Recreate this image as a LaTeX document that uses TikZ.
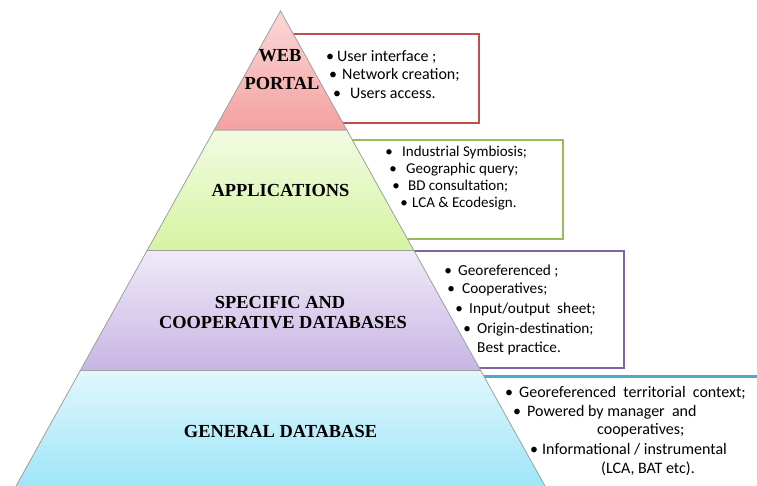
\documentclass[tikz,border=0pt]{standalone}
\usepackage{fontspec}
\setmainfont{Carlito}
\newfontfamily\titlefont{Liberation Serif}
\definecolor{rtop}{HTML}{FBD8D7}
\definecolor{rbot}{HTML}{F3A1A0}
\definecolor{gtop}{HTML}{F2FBE2}
\definecolor{gbot}{HTML}{D5F4A2}
\definecolor{ptop}{HTML}{EFEAF7}
\definecolor{pbot}{HTML}{C8B5E4}
\definecolor{btop}{HTML}{E1F7FD}
\definecolor{bbot}{HTML}{9BE5F8}
\definecolor{bred}{HTML}{C0504D}
\definecolor{bgreen}{HTML}{9BBB59}
\definecolor{bpurple}{HTML}{8064A2}
\definecolor{bblue}{HTML}{4BACC6}
\newcommand\blt[6]{\node[txt,font=\fontsize{#6}{#6}\selectfont] (#1) at (#3,#4) {\makebox[0pt][r]{\makebox[0pt][c]{•}\hspace{\dimexpr #3pt-#2pt\relax}}#5};}
\newcommand\nob[5]{\node[txt,font=\fontsize{#5}{#5}\selectfont] (#1) at (#2,#3) {#4};}
\begin{document}
\begin{tikzpicture}[x=1pt,y=-1pt,
  infobox/.style={line width=2.6pt,fill=white},
  layer/.style={draw=gray!75,line width=0.8pt},
  title/.style={font=\titlefont\bfseries\fontsize{18.4}{20}\selectfont,anchor=base,inner sep=0pt},
  txt/.style={anchor=base west,inner sep=0pt}]
\useasboundingbox (0,0) rectangle (757,486);
\clip (0,0) rectangle (757,486);
% boxes behind the pyramid
\draw[infobox,draw=bred] (285,34) rectangle (479,123);
\draw[infobox,draw=bgreen] (330,140) rectangle (563,239);
\draw[infobox,draw=bpurple] (400,251) rectangle (624,368);
\draw[infobox,draw=bblue] (470,376.5) rectangle (800,520);
% pyramid layers
\path[layer,top color=btop,bottom color=bbot] (80.3,370.5) -- (480.7,370.5) -- (547.2,490) -- (13.8,490) -- cycle;
\path[layer,top color=ptop,bottom color=pbot] (147.1,250.5) -- (413.9,250.5) -- (480.7,370.5) -- (80.3,370.5) -- cycle;
\path[layer,top color=gtop,bottom color=gbot] (214.2,130) -- (346.8,130) -- (413.9,250.5) -- (147.1,250.5) -- cycle;
\path[layer,top color=rtop,bottom color=rbot] (280.5,11) -- (346.8,130) -- (214.2,130) -- cycle;
% titles
\node[title] (web) at (280,62) {WEB};
\node[title] (portal) at (282,90) {PORTAL};
\node[title] (apps) at (280.5,196.7) {APPLICATIONS};
\node[title] (spec1) at (280,308.3) {SPECIFIC AND};
\node[title] (spec2) at (283,328.3) {COOPERATIVE DATABASES};
\node[title] (gen) at (280.5,437.7) {GENERAL DATABASE};
% red box text
\blt{r1}{330}{337}{62}{User interface ;}{16}
\blt{r2}{333}{342}{80}{Network creation;}{16}
\blt{r3}{337}{350}{99}{Users access.}{16}
% green box text
\blt{g1}{389}{402}{157}{Industrial Symbiosis;}{15}
\blt{g2}{393}{406}{174}{Geographic query;}{15}
\blt{g3}{396}{408}{191}{BD consultation;}{15}
\blt{g4}{404}{412}{208}{LCA \& Ecodesign.}{15}
% purple box text
\blt{p1}{448}{458}{275}{Georeferenced ;}{15.3}
\blt{p2}{451}{462}{293}{Cooperatives;}{15.3}
\blt{p3}{459}{469}{313}{Input/output\ \ sheet;}{15.3}
\blt{p4}{467}{477}{333}{Origin-destination;}{15.3}
\nob{p5}{477}{352}{Best practice.}{15.3}
% blue box text
\blt{b1}{509}{519}{397}{Georeferenced\ \ territorial\ \ context;}{16}
\blt{b2}{517}{527}{416}{Powered by manager\ \ and}{16}
\nob{b3}{597}{434}{cooperatives;}{16}
\blt{b4}{534}{542}{454}{Informational / instrumental}{16}
\nob{b5}{601}{473}{(LCA, BAT etc).}{16}
\end{tikzpicture}
\end{document}
